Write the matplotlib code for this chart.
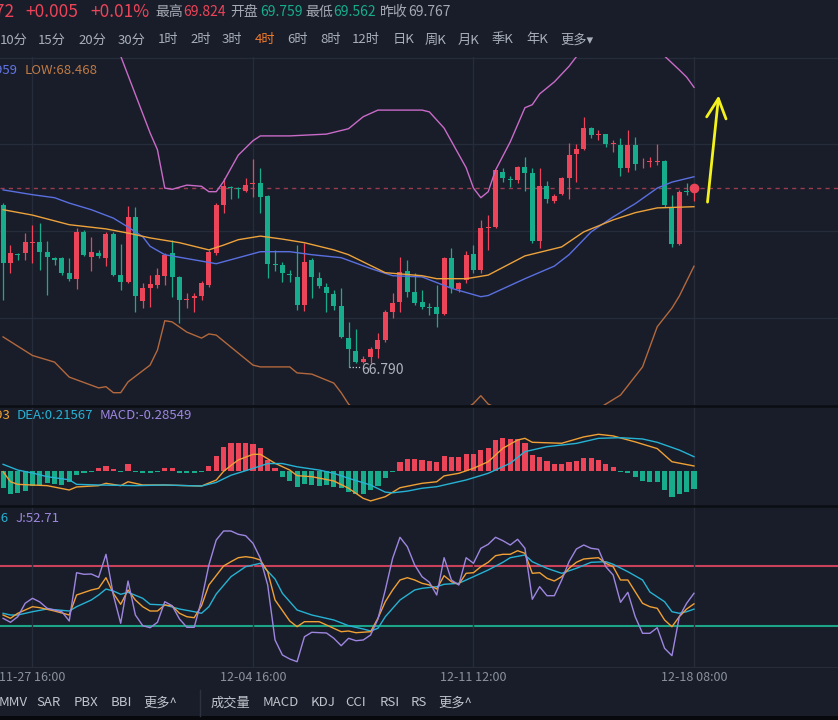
import numpy as np
import matplotlib
matplotlib.use("Agg")
import matplotlib.pyplot as plt
from matplotlib.lines import Line2D
from matplotlib.patches import Rectangle

plt.rcParams["font.family"] = ["Noto Sans CJK SC", "DejaVu Sans"]

# ---------------- data (4h candles) ----------------
OPEN = [69.49, 68.52, 68.67, 68.69, 68.86, 68.87, 68.71, 68.61, 68.61, 68.36,
        68.26, 69.04, 68.62, 68.69, 68.61, 69.01, 68.32, 68.21, 69.29, 67.89,
        68.11, 68.16, 68.31, 68.69, 68.29, 67.90, 67.94, 67.97, 68.16, 68.69,
        69.49, 69.79, 69.77, 69.72, 69.84, 69.86, 69.64, 68.51, 68.49, 68.34,
        68.29, 67.82, 68.57, 68.27, 68.12, 68.00, 67.80, 67.27, 67.06, 66.87,
        66.96, 67.09, 67.24, 67.71, 67.87, 68.39, 68.04, 67.87, 67.78, 67.79,
        67.67, 68.61, 68.09, 68.24, 68.67, 68.41, 69.11, 69.12, 70.04, 69.92,
        69.91, 70.12, 70.02, 68.89, 69.81, 69.56, 69.67, 69.94, 70.34, 70.42,
        70.77, 70.66, 70.67, 70.50, 70.49, 70.11, 70.49, 70.18, 70.20, 70.21,
        70.22, 69.46, 68.84, 69.72, 69.759]
HIGH = [69.52, 68.82, 68.69, 69.02, 69.16, 69.19, 68.89, 68.62, 68.62, 68.61,
        69.11, 69.07, 68.96, 68.74, 69.04, 69.04, 68.84, 69.47, 69.46, 68.19,
        68.32, 68.44, 68.69, 68.91, 68.30, 68.02, 68.02, 68.22, 68.74, 69.52,
        69.94, 69.81, 69.79, 69.94, 70.26, 70.11, 69.66, 68.74, 68.54, 68.41,
        68.82, 68.86, 68.61, 68.37, 68.19, 68.07, 68.11, 67.54, 67.42, 66.97,
        67.12, 67.36, 67.74, 68.02, 68.62, 68.57, 68.36, 68.07, 67.86, 68.16,
        68.62, 68.77, 68.21, 68.72, 68.82, 69.24, 69.32, 70.08, 70.11, 69.97,
        70.14, 70.29, 70.11, 70.11, 69.89, 69.67, 69.96, 70.52, 70.51, 70.96,
        70.79, 70.74, 70.68, 70.57, 70.61, 70.74, 70.62, 70.27, 70.29, 70.51,
        70.24, 69.66, 69.74, 69.86, 69.824]
LOW = [67.90, 68.36, 68.57, 68.57, 68.52, 68.41, 67.99, 68.49, 68.32, 68.22,
       68.09, 68.64, 68.39, 68.61, 68.47, 68.31, 68.07, 68.19, 67.71, 67.77,
       67.79, 68.11, 68.16, 67.96, 67.52, 67.77, 67.71, 67.91, 68.12, 68.66,
       69.36, 69.59, 69.61, 69.71, 69.62, 69.36, 68.27, 68.39, 68.21, 68.21,
       67.74, 67.72, 67.94, 68.11, 67.71, 67.74, 67.27, 66.79, 66.86, 66.86,
       66.86, 66.94, 67.21, 67.61, 67.71, 67.96, 67.82, 67.76, 67.66, 67.46,
       67.66, 68.02, 68.04, 68.19, 68.36, 68.36, 68.74, 69.11, 69.87, 69.79,
       69.86, 69.72, 68.86, 68.77, 69.52, 69.52, 69.66, 69.59, 69.87, 70.41,
       70.61, 70.57, 70.46, 70.37, 69.97, 70.04, 70.07, 70.11, 70.12, 70.16,
       69.46, 68.79, 68.82, 69.66, 69.562]
CLOSE = [68.52, 68.69, 68.66, 68.87, 68.87, 68.71, 68.62, 68.57, 68.36, 68.26,
         69.04, 68.66, 68.71, 68.64, 69.01, 68.32, 68.21, 69.29, 67.97, 68.11,
         68.17, 68.32, 68.66, 68.29, 67.91, 67.91, 67.97, 68.19, 68.71, 69.49,
         69.81, 69.77, 69.75, 69.82, 69.86, 69.62, 68.51, 68.49, 68.36, 68.32,
         67.82, 68.54, 68.29, 68.14, 68.02, 67.80, 67.29, 67.09, 66.87, 66.92,
         67.09, 67.24, 67.71, 67.86, 68.37, 68.04, 67.86, 67.79, 67.77, 67.67,
         68.61, 68.11, 68.19, 68.66, 68.41, 69.11, 69.12, 70.07, 69.94, 69.91,
         70.12, 70.02, 68.89, 69.81, 69.59, 69.64, 69.94, 70.32, 70.42, 70.77,
         70.66, 70.67, 70.51, 70.51, 70.11, 70.49, 70.17, 70.19, 70.21, 70.22,
         69.49, 68.84, 69.71, 69.71, 69.772]

DAY_HIGH, DAY_OPEN, DAY_LOW, PREV_CLOSE = 69.824, 69.759, 69.562, 69.767

# Bollinger bands + moving average (knots: candle index, value)
UP_IDX = [0, 10, 13, 16, 20, 21, 22, 23, 25, 27, 28, 29, 30, 32, 34, 35, 39, 44, 47, 49,
          51, 57, 58, 60, 63, 64, 65, 66, 67, 69, 71, 72, 73, 75, 77, 78, 80, 84, 88, 90,
          92, 93, 94]
UP_VAL = [73.20, 73.20, 72.90, 71.97, 70.69, 70.41, 69.77, 69.75, 69.82, 69.80, 69.71,
          69.71, 69.88, 70.32, 70.56, 70.64, 70.64, 70.67, 70.76, 70.96, 71.07, 71.07,
          71.04, 70.77, 70.11, 69.77, 69.61, 69.71, 70.07, 70.54, 71.11, 71.16, 71.34,
          71.54, 71.80, 71.96, 72.15, 72.35, 72.20, 71.97, 71.74, 71.62, 71.450]
MID_IDX = [0, 4, 7, 9, 12, 15, 17, 19, 20, 22, 29, 35, 39, 42, 46, 50, 53, 57, 61, 65,
           66, 71, 75, 77, 80, 83, 86, 89, 91, 94]
MID_VAL = [69.74, 69.66, 69.61, 69.52, 69.41, 69.27, 69.12, 68.96, 68.80, 68.66, 68.51,
           68.71, 68.71, 68.66, 68.61, 68.43, 68.31, 68.29, 68.10, 67.96, 67.98, 68.26,
           68.47, 68.66, 69.04, 69.29, 69.51, 69.77, 69.87, 69.959]
DN_IDX = [0, 4, 7, 9, 13, 14, 15, 16, 17, 20, 21, 22, 23, 25, 27, 28, 29, 31, 34, 35,
          39, 40, 42, 45, 46, 47, 50, 54, 58, 62, 64, 65, 66, 70, 75, 79, 82, 84, 87, 89,
          91, 92, 94]
DN_VAL = [67.29, 66.98, 66.87, 66.62, 66.44, 66.46, 66.36, 66.36, 66.54, 66.82, 67.07,
          67.56, 67.54, 67.37, 67.27, 67.34, 67.32, 67.12, 66.82, 66.79, 66.79, 66.69,
          66.67, 66.52, 66.36, 66.17, 65.85, 65.65, 65.75, 66.00, 66.18, 66.31, 66.17,
          65.95, 65.85, 65.95, 66.17, 66.32, 66.79, 67.46, 67.77, 67.97, 68.468]
MA_IDX = [0, 4, 9, 14, 17, 20, 24, 28, 30, 32, 35, 38, 41, 45, 47, 52, 57, 59, 63, 66,
          71, 76, 79, 83, 86, 89, 94]
MA_VAL = [69.41, 69.32, 69.16, 69.09, 69.02, 68.94, 68.86, 68.74, 68.82, 68.91, 68.97,
          68.92, 68.86, 68.74, 68.66, 68.36, 68.31, 68.26, 68.26, 68.32, 68.64, 68.79,
          69.04, 69.24, 69.36, 69.44, 69.46]

# MACD
MACD_HIST = [-0.26, -0.36, -0.35, -0.31, -0.24, -0.22, -0.195, -0.20, -0.22, -0.18,
             -0.066, -0.03, -0.02, 0.035, 0.072, 0.02, -0.015, 0.097, -0.015, -0.04,
             -0.04, -0.025, 0.035, 0.035, -0.03, -0.04, -0.04, -0.025, 0.072, 0.23,
             0.37, 0.43, 0.43, 0.43, 0.405, 0.354, 0.164, 0.035, -0.092, -0.16,
             -0.246, -0.21, -0.22, -0.236, -0.22, -0.246, -0.27, -0.33, -0.36, -0.36,
             -0.30, -0.23, -0.118, -0.015, 0.128, 0.174, 0.174, 0.164, 0.154, 0.128,
             0.226, 0.215, 0.215, 0.256, 0.256, 0.318, 0.354, 0.472, 0.497, 0.487,
             0.482, 0.431, 0.241, 0.215, 0.149, 0.097, 0.097, 0.128, 0.149, 0.19,
             0.19, 0.164, 0.108, 0.062, -0.026, -0.04, -0.103, -0.159, -0.17, -0.18,
             -0.297, -0.40, -0.364, -0.333, -0.28549]
DIF_IDX = [0, 1, 2, 4, 6, 9, 10, 13, 14, 16, 17, 19, 22, 25, 27, 29, 30, 31, 32, 34,
           35, 37, 39, 40, 42, 45, 47, 49, 50, 52, 54, 57, 59, 60, 62, 64, 66, 68, 70, 71,
           72, 76, 79, 81, 83, 86, 89, 91, 94]
DIF_VAL = [-0.015, -0.17, -0.21, -0.22, -0.23, -0.297, -0.25, -0.23, -0.194, -0.23,
           -0.17, -0.22, -0.22, -0.23, -0.236, -0.144, -0.01, 0.08, 0.165, 0.252, 0.252,
           0.114, 0.01, -0.076, -0.092, -0.158, -0.27, -0.425, -0.465, -0.40, -0.262,
           -0.194, -0.17, -0.08, -0.04, 0.037, 0.138, 0.345, 0.472, 0.498, 0.437, 0.422,
           0.52, 0.56, 0.535, 0.443, 0.34, 0.138, 0.07293]
DEA_IDX = [0, 2, 4, 6, 9, 10, 13, 18, 22, 27, 29, 31, 34, 36, 38, 40, 43, 45, 47, 50,
           52, 53, 55, 57, 59, 63, 66, 69, 71, 74, 78, 81, 84, 87, 89, 92, 94]
DEA_VAL = [0.098, 0.01, -0.036, -0.092, -0.14, -0.21, -0.22, -0.23, -0.22, -0.236,
           -0.18, -0.07, 0.035, 0.11, 0.11, 0.06, 0.01, -0.04, -0.117, -0.22, -0.33,
           -0.34, -0.314, -0.27, -0.246, -0.143, -0.04, 0.114, 0.293, 0.37, 0.42, 0.498,
           0.508, 0.488, 0.437, 0.318, 0.21567]

# KDJ
K_IDX = [0, 1, 2, 4, 5, 7, 9, 10, 12, 13, 14, 15, 16, 17, 18, 19, 20, 21, 22, 23, 24,
         25, 26, 27, 28, 30, 31, 32, 33, 34, 35, 36, 37, 39, 40, 41, 43, 44, 46, 47, 48,
         50, 51, 52, 53, 54, 55, 56, 57, 58, 59, 60, 61, 62, 63, 64, 65, 66, 67, 68, 69,
         70, 71, 72, 73, 74, 75, 76, 77, 78, 79, 80, 81, 82, 83, 84, 85, 86, 87, 88, 89,
         90, 91, 92, 93, 94]
K_VAL = [31, 27.7, 32.7, 39.3, 38.3, 35, 31, 51, 56, 57.7, 68.3, 52.7, 41.7, 56, 46,
         39.3, 35, 35, 41, 40, 32.7, 29.3, 28.3, 40.3, 61, 80, 84.3, 88.3, 89.3, 88.3,
         86, 74.3, 46, 25, 19.3, 24.3, 24.3, 21, 14.3, 15, 13.3, 14.3, 27.7, 44.3, 56,
         66, 68.3, 66, 62.7, 61, 57, 70.3, 64.3, 61.7, 72.7, 73.3, 79.3, 83.7, 90.3,
         91.7, 91.7, 95.3, 92.7, 72.7, 73.3, 67.7, 65, 69.3, 77.7, 83.7, 87, 87.7, 88.3,
         82.7, 79.3, 66, 66, 54.3, 42.7, 39.3, 37.7, 26, 19.3, 29.3, 37, 42.14]
D_IDX = [0, 1, 2, 4, 6, 9, 10, 12, 13, 14, 15, 16, 17, 19, 20, 22, 24, 26, 27, 28, 29,
         31, 33, 35, 37, 38, 40, 42, 45, 47, 49, 50, 51, 52, 54, 56, 57, 59, 60, 62, 64,
         66, 68, 69, 71, 72, 74, 76, 78, 80, 82, 83, 85, 87, 88, 90, 91, 92, 93, 94]
D_VAL = [32.7, 31, 31, 34.3, 37, 35, 39.3, 46, 51, 57, 55, 51.7, 53.7, 47.7, 41.7, 41,
         37, 34.3, 32.7, 39.3, 52, 69.3, 79.3, 82.7, 67, 52.7, 36, 31, 26, 20.3, 17, 15,
         17.7, 29.3, 46, 56, 57.7, 59.3, 61.7, 62.7, 69.3, 76, 83.7, 88.3, 91, 84.3,
         77.7, 72.7, 77.7, 83.7, 84.3, 81.7, 74.3, 66, 54, 44.3, 34.3, 32.7, 34.3, 36.86]
J_IDX = [0, 1, 2, 3, 4, 5, 6, 8, 9, 10, 11, 12, 13, 14, 15, 16, 17, 18, 19, 20, 21, 22,
         23, 24, 25, 26, 27, 28, 29, 30, 31, 32, 33, 34, 35, 36, 37, 38, 39, 40, 41, 42,
         44, 45, 46, 47, 48, 49, 50, 51, 52, 53, 54, 55, 56, 57, 58, 59, 60, 61, 62, 63,
         64, 65, 66, 67, 68, 69, 70, 71, 72, 73, 74, 75, 76, 77, 78, 79, 80, 81, 82, 83,
         84, 85, 86, 87, 88, 89, 90, 91, 92, 93, 94]
J_VAL = [27.7, 23.7, 29.3, 42.7, 47.7, 44, 37.7, 34.3, 25, 73.3, 71.7, 72, 68.7, 91.7,
         51, 22.7, 65, 31, 20.3, 18.3, 23.7, 44.3, 40.3, 27, 18.7, 18.7, 46, 81, 106,
         115, 115, 111.7, 110.3, 102.7, 87.7, 61, 6, -9, -13, -15.7, 9.3, 13.7, 13,
         7.7, 0.3, 7.7, 5.3, 6, 11, 27, 56, 87.7, 108.7, 99.3, 81, 69.3, 63.7, 51, 88.3,
         66, 61, 88.3, 82.7, 97.7, 101.7, 108.7, 105.3, 101, 106.7, 97.7, 46.7, 59.3,
         50.3, 50.3, 66, 84.3, 97, 101, 97.7, 96.7, 79.3, 71, 43.7, 53.7, 29.3, 12.7,
         12.7, 18.3, -2.3, -9.7, 29.3, 42.7, 52.71]

XTICK_IDX = [4, 34, 64, 94]
XTICK_LABELS = ["11-27 16:00", "12-04 16:00", "12-11 12:00", "12-18 08:00"]
PRICE_GRID = [67.605, 69.055, 70.505, 71.945]

TIMEFRAMES = ["10分", "15分", "20分", "30分", "1时", "2时", "3时", "4时", "6时", "8时",
              "12时", "日K", "周K", "月K", "季K", "年K", "更多▾"]
TF_X = [0, 38, 78, 118, 158, 190, 222, 255, 287, 320, 352, 393, 425, 458, 492, 526, 560]
MAIN_IND = ["MMV", "SAR", "PBX", "BBI", "更多^"]
MAIN_X = [-1, 36, 74, 111, 143]
SUB_IND = ["成交量", "MACD", "KDJ", "CCI", "RSI", "RS", "更多^"]
SUB_X = [211, 263, 311, 345, 380, 411, 438]

# ---------------- style ----------------
W, H = 838, 720
BG = "#181d29"
GRID = "#262c3a"
RED = "#ec4459"
GREEN = "#17ad8c"
GRAY = "#a4a9b4"
C_UP, C_MID, C_DN, C_MA = "#c96bc8", "#5a6fe0", "#b3683d", "#eda23c"
C_ORANGE, C_CYAN, C_PURPLE = "#f0a035", "#27b2d4", "#9e86e0"
PX = 7.35          # pixels per candle
X0 = -0.42         # candle index at left edge


def fy(y):
    return 1 - y / H


def panel(top, bottom):
    ax = fig.add_axes([0, fy(bottom), 1, (bottom - top) / H])
    ax.set_facecolor(BG)
    ax.set_xlim(X0, X0 + W / PX)
    for s in ax.spines.values():
        s.set_visible(False)
    ax.set_xticks(XTICK_IDX)
    ax.grid(axis="x", color=GRID, lw=1)
    ax.tick_params(length=0, labelleft=False, labelbottom=False)
    ax.set_yticks([])
    return ax


fig = plt.figure(figsize=(W / 100, H / 100), dpi=100, facecolor=BG)

# ---------------- price panel ----------------
axp = panel(57, 405)
axp.set_ylim(72.905 - 405 / 60, 72.905 - 57 / 60)
axp.set_yticks(PRICE_GRID)
axp.grid(axis="y", color=GRID, lw=1)
axp.set_axisbelow(True)

o, h, l, c = (np.array(a) for a in (OPEN, HIGH, LOW, CLOSE))
x = np.arange(len(o))
col = np.where(c >= o, RED, GREEN)
axp.vlines(x, l, h, colors=col, lw=0.9, zorder=2)
axp.bar(x, np.maximum(np.abs(c - o), 0.014), bottom=np.minimum(o, c), width=0.68,
        color=col, linewidth=0, zorder=2)

axp.plot(UP_IDX, UP_VAL, color=C_UP, lw=1.0, zorder=3)
axp.plot(DN_IDX, DN_VAL, color=C_DN, lw=1.0, zorder=3)
axp.plot(MID_IDX, MID_VAL, color=C_MID, lw=1.0, zorder=3)
axp.plot(MA_IDX, MA_VAL, color=C_MA, lw=1.0, zorder=3)

axp.axhline(c[-1], color="#9b3b50", lw=1, ls=(0, (3, 3)), zorder=1)
axp.plot(x[-1], c[-1], "o", ms=6, color=RED, zorder=4)

imin = int(np.argmin(l))
axp.plot([imin, imin + 1.6], [l[imin], l[imin]], ls=(0, (1, 1.5)), color="#c8ccd4",
         lw=0.9)
axp.annotate(f"{l[imin]:.3f}", xy=(imin + 1.75, l[imin]), xytext=(0, -3),
             textcoords="offset pixels", va="center", fontsize=10, color="#aeb3bd")

axp.annotate("", xy=(97.4, 71.36), xytext=(95.8, 69.49),
             arrowprops=dict(arrowstyle="->,head_length=0.7,head_width=0.35",
                             color="#f4f21c", lw=2, mutation_scale=20))

fig.text(18 / W, fy(70), f"MID:{MID_VAL[-1]:.3f}", ha="right", va="center",
         fontsize=9.5, color="#6375e8")
fig.text(25 / W, fy(70), f"LOW:{DN_VAL[-1]:.3f}", ha="left", va="center",
         fontsize=9.5, color="#c07a45")

# ---------------- MACD panel ----------------
axm = panel(407, 505)
axm.set_ylim(-(505 - 470.7) / 65, (470.7 - 407) / 65)
hist = np.array(MACD_HIST)
axm.bar(x, hist, width=0.7, color=np.where(hist >= 0, RED, GREEN), linewidth=0,
        zorder=2)
axm.plot(DIF_IDX, DIF_VAL, color=C_ORANGE, lw=1.0, zorder=3)
axm.plot(DEA_IDX, DEA_VAL, color=C_CYAN, lw=1.0, zorder=3)

fig.text(11 / W, fy(416), f"DIF:{DIF_VAL[-1]:.5f}", ha="right", va="center",
         fontsize=9.5, color=C_ORANGE)
fig.text(17 / W, fy(416), f"DEA:{DEA_VAL[-1]:.5f}", ha="left", va="center",
         fontsize=9.5, color=C_CYAN)
fig.text(100 / W, fy(416), f"MACD:{hist[-1]:.5f}", ha="left", va="center",
         fontsize=9.5, color=C_PURPLE)

# ---------------- KDJ panel ----------------
axk = panel(507, 667)
axk.set_ylim(646 - 667, 646 - 507)
axk.axhline(80, color="#c9415a", lw=1.5, zorder=1)
axk.axhline(20, color="#1ba487", lw=1.5, zorder=1)
axk.plot(D_IDX, D_VAL, color=C_CYAN, lw=1.0, zorder=3)
axk.plot(K_IDX, K_VAL, color=C_ORANGE, lw=1.0, zorder=3)
axk.plot(J_IDX, J_VAL, color=C_PURPLE, lw=1.0, zorder=3)
axk.spines["bottom"].set_visible(True)
axk.spines["bottom"].set_color(GRID)
axk.set_xticklabels(XTICK_LABELS)
axk.tick_params(labelbottom=True, labelcolor="#8b919d", labelsize=9, pad=3)

fig.text(9 / W, fy(518), f"D:{D_VAL[-1]:.2f}", ha="right", va="center",
         fontsize=9.5, color=C_CYAN)
fig.text(15 / W, fy(518), f"J:{J_VAL[-1]:.2f}", ha="left", va="center",
         fontsize=9.5, color=C_PURPLE)

# panel separators
for yy in (405.5, 505.8):
    fig.add_artist(Line2D([0, 1], [fy(yy)] * 2, transform=fig.transFigure,
                          color="#0b0e13", lw=1.8))

# ---------------- header ----------------
last = c[-1]
chg = last - PREV_CLOSE
fig.text(14 / W, fy(12), f"{last:.3f}", ha="right", va="center", fontsize=12.5,
         color=RED)
fig.text(25 / W, fy(12), f"{chg:+.3f}", ha="left", va="center", fontsize=12.5,
         color=RED)
fig.text(90 / W, fy(12), f"{chg / PREV_CLOSE * 100:+.2f}%", ha="left", va="center",
         fontsize=12.5, color=RED)
header = [("最高", 155, GRAY), (f"{DAY_HIGH:.3f}", 183, RED),
          ("开盘", 230, GRAY), (f"{DAY_OPEN:.3f}", 260, GREEN),
          ("最低", 305, GRAY), (f"{DAY_LOW:.3f}", 333, GREEN),
          ("昨收", 380, GRAY), (f"{PREV_CLOSE:.3f}", 408, GRAY)]
for s, xx, cc in header:
    fig.text(xx / W, fy(12), s, ha="left", va="center", fontsize=10, color=cc)

for s, xx in zip(TIMEFRAMES, TF_X):
    fig.text(xx / W, fy(40), s, ha="left", va="center", fontsize=9.5,
             color="#f07a2a" if s == "4时" else "#aab0bb")

# ---------------- bottom bar ----------------
for s, xx in zip(MAIN_IND + SUB_IND, MAIN_X + SUB_X):
    fig.text(xx / W, fy(703), s, ha="left", va="center", fontsize=9.5,
             color="#c0c4cc")
fig.add_artist(Line2D([200 / W] * 2, [fy(690), fy(716)], transform=fig.transFigure,
                      color="#2c3240", lw=1))
fig.add_artist(Rectangle((0, 0), 1, 4 / H, transform=fig.transFigure,
                         color="#07090d", lw=0))

fig.savefig("out.png", dpi=100, facecolor=BG)
